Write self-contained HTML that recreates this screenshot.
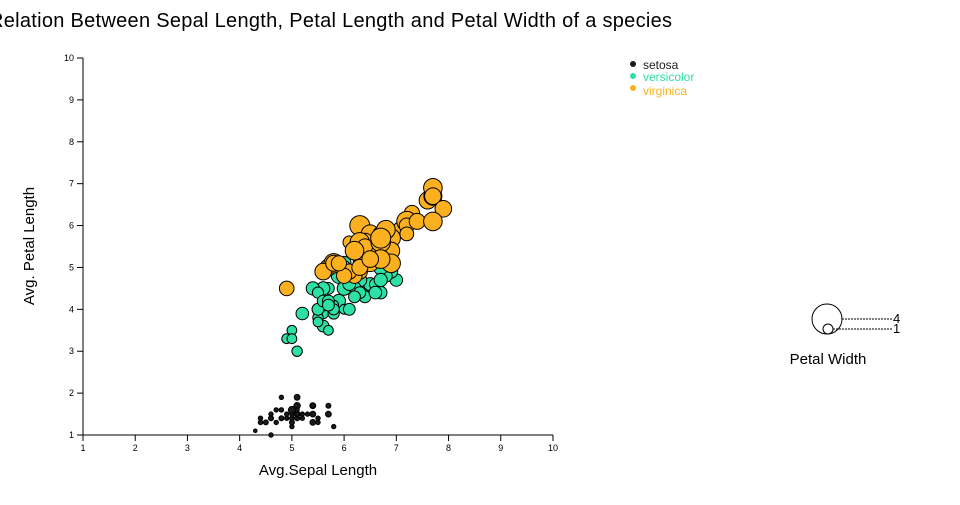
<!DOCTYPE html>
<html><head><meta charset="utf-8"><style>
body{margin:0;background:#fff;width:960px;height:500px;overflow:hidden}
svg text{font-family:"Liberation Sans",sans-serif}
</style></head><body>
<svg id="s" width="960" height="500" xmlns="http://www.w3.org/2000/svg">
<text x="-11" y="27" font-size="20" textLength="683" fill="#000">Relation Between Sepal Length, Petal Length and Petal Width of a species</text>
<g id="ax" font-size="9" fill="#000"></g>
<text x="318" y="475" font-size="15" text-anchor="middle">Avg.Sepal Length</text>
<text transform="translate(34,246) rotate(-90)" font-size="15" text-anchor="middle">Avg. Petal Length</text>
<g id="pts"></g>
<circle cx="633" cy="64" r="3" fill="#1a1a1a"/><text x="643" y="69" font-size="12" fill="#1a1a1a">setosa</text>
<circle cx="633" cy="76" r="3" fill="#2de0a6"/><text x="643" y="81" font-size="12" fill="#2de0a6">versicolor</text>
<circle cx="633" cy="88" r="3" fill="#fbb01f"/><text x="643" y="95" font-size="12" fill="#fbb01f">virginica</text>
<circle cx="827" cy="319" r="15" fill="none" stroke="#000"/>
<circle cx="828" cy="329" r="5" fill="none" stroke="#000"/>
<line x1="842" y1="319" x2="893" y2="319" stroke="#000" stroke-dasharray="2,1"/>
<line x1="833" y1="329" x2="893" y2="329" stroke="#000" stroke-dasharray="2,1"/>
<text x="893" y="323" font-size="13">4</text>
<text x="893" y="333" font-size="13">1</text>
<text x="828" y="364" font-size="15" text-anchor="middle">Petal Width</text>
</svg>
<script>
function X(v){return 83+(v-1)*52.22}
function Y(v){return 435-(v-1)*41.89}
var ax=document.getElementById("ax"),h="";
h+='<line x1="83" y1="435" x2="553" y2="435" stroke="#000"/><line x1="83" y1="58" x2="83" y2="435" stroke="#000"/>';
for(var i=1;i<=10;i++){h+='<line x1="'+X(i)+'" y1="435" x2="'+X(i)+'" y2="441" stroke="#000"/><text x="'+X(i)+'" y="451" text-anchor="middle">'+i+'</text>';
h+='<line x1="77" y1="'+Y(i)+'" x2="83" y2="'+Y(i)+'" stroke="#000"/><text x="74" y="'+(Y(i)+3)+'" text-anchor="end">'+i+'</text>';}
ax.innerHTML=h;
var d="5.1,1.4,.2;4.9,1.4,.2;4.7,1.3,.2;4.6,1.5,.2;5,1.4,.2;5.4,1.7,.4;4.6,1.4,.3;5,1.5,.2;4.4,1.4,.2;4.9,1.5,.1;5.4,1.5,.2;4.8,1.6,.2;4.8,1.4,.1;4.3,1.1,.1;5.8,1.2,.2;5.7,1.5,.4;5.4,1.3,.4;5.1,1.4,.3;5.7,1.7,.3;5.1,1.5,.3;5.4,1.7,.2;5.1,1.5,.4;4.6,1,.2;5.1,1.7,.5;4.8,1.9,.2;5,1.6,.2;5,1.6,.4;5.2,1.5,.2;5.2,1.4,.2;4.7,1.6,.2;4.8,1.6,.2;5.4,1.5,.4;5.2,1.5,.1;5.5,1.4,.2;4.9,1.5,.2;5,1.2,.2;5.5,1.3,.2;4.9,1.4,.1;4.4,1.3,.2;5.1,1.5,.2;5,1.3,.3;4.5,1.3,.3;4.4,1.3,.2;5,1.6,.6;5.1,1.9,.4;4.8,1.4,.3;5.1,1.6,.2;4.6,1.4,.2;5.3,1.5,.2;5,1.4,.2|7,4.7,1.4;6.4,4.5,1.5;6.9,4.9,1.5;5.5,4,1.3;6.5,4.6,1.5;5.7,4.5,1.3;6.3,4.7,1.6;4.9,3.3,1;6.6,4.6,1.3;5.2,3.9,1.4;5,3.5,1;5.9,4.2,1.5;6,4,1;6.1,4.7,1.4;5.6,3.6,1.3;6.7,4.4,1.4;5.6,4.5,1.5;5.8,4.1,1;6.2,4.5,1.5;5.6,3.9,1.1;5.9,4.8,1.8;6.1,4,1.3;6.3,4.9,1.5;6.1,4.7,1.2;6.4,4.3,1.3;6.6,4.4,1.4;6.8,4.8,1.4;6.7,5,1.7;6,4.5,1.5;5.7,3.5,1;5.5,3.8,1.1;5.5,3.7,1;5.8,3.9,1.2;6,5.1,1.6;5.4,4.5,1.5;6,4.5,1.6;6.7,4.7,1.5;6.3,4.4,1.3;5.6,4.1,1.3;5.5,4,1.3;5.5,4.4,1.2;6.1,4.6,1.4;5.8,4,1.2;5,3.3,1;5.6,4.2,1.3;5.7,4.2,1.2;5.7,4.2,1.3;6.2,4.3,1.3;5.1,3,1.1;5.7,4.1,1.3|6.3,6,2.5;5.8,5.1,1.9;7.1,5.9,2.1;6.3,5.6,1.8;6.5,5.8,2.2;7.6,6.6,2.1;4.9,4.5,1.7;7.3,6.3,1.8;6.7,5.8,1.8;7.2,6.1,2.5;6.5,5.1,2;6.4,5.3,1.9;6.8,5.5,2.1;5.7,5,2;5.8,5.1,2.4;6.4,5.3,2.3;6.5,5.5,1.8;7.7,6.7,2.2;7.7,6.9,2.3;6,5,1.5;6.9,5.7,2.3;5.6,4.9,2;7.7,6.7,2;6.3,4.9,1.8;6.7,5.7,2.1;7.2,6,1.8;6.2,4.8,1.8;6.1,4.9,1.8;6.4,5.6,2.1;7.2,5.8,1.6;7.4,6.1,1.9;7.9,6.4,2;6.4,5.6,2.2;6.3,5.1,1.5;6.1,5.6,1.4;7.7,6.1,2.3;6.3,5.6,2.4;6.4,5.5,1.8;6,4.8,1.8;6.9,5.4,2.1;6.7,5.6,2.4;6.9,5.1,2.3;5.8,5.1,1.9;6.8,5.9,2.3;6.7,5.7,2.5;6.7,5.2,2.3;6.3,5,1.9;6.5,5.2,2;6.2,5.4,2.3;5.9,5.1,1.8";
var cols=["#1a1a1a","#2de0a6","#fbb01f"],g="";
d.split("|").forEach(function(sp,k){sp.split(";").forEach(function(p){var a=p.split(",").map(Number);
g+='<circle cx="'+X(a[0]).toFixed(1)+'" cy="'+Y(a[1]).toFixed(1)+'" r="'+(1.5+a[2]*3.4).toFixed(1)+'" fill="'+cols[k]+'" stroke="#000" stroke-width="1"/>';});});
document.getElementById("pts").innerHTML=g;
</script>
</body></html>
